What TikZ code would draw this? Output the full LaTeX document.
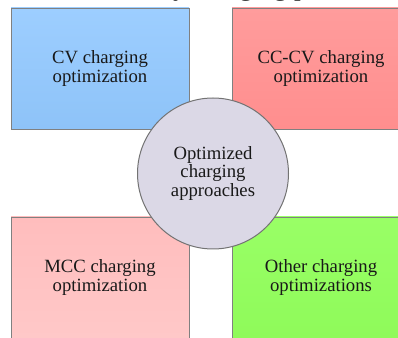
\documentclass[tikz,border=0pt]{standalone}
\usepackage{fontspec}
\setmainfont{Liberation Serif}
\begin{document}
\begin{tikzpicture}[x=1pt,y=1pt,
  quad/.style={draw=black!50,line width=0.9pt,minimum width=178pt,minimum height=121pt,
    align=center,inner sep=0pt,font=\fontsize{18.7}{18.5}\selectfont,text=black!90},
  hub/.style={circle,draw=black!55,line width=1pt,fill=hubfill,minimum size=151pt,
    align=center,inner sep=0pt,font=\fontsize{18.7}{18.8}\selectfont,text=black!90}]
\definecolor{bluetop}{HTML}{9DCEFF}
\definecolor{bluebot}{HTML}{8EC3F8}
\definecolor{redtop}{HTML}{FF9C9C}
\definecolor{redbot}{HTML}{FF8E8E}
\definecolor{pinktop}{HTML}{FFBDBD}
\definecolor{pinkbot}{HTML}{FFC8C8}
\definecolor{greentop}{HTML}{99FF66}
\definecolor{greenbot}{HTML}{8FFA5A}
\definecolor{hubfill}{HTML}{DBD8E6}
\useasboundingbox (0,0) rectangle (398,337);
\clip (0,0) rectangle (398,337);
\node[font=\fontsize{27}{27}\selectfont,anchor=base west,inner sep=0pt,text=black!90] (title) at (173,341.5) {y charging p};
\node[quad,top color=bluetop,bottom color=bluebot] (cv) at (100,268.5) {CV charging\\optimization};
\node[quad,top color=redtop,bottom color=redbot] (cccv) at (321,268.5) {CC-CV charging\\optimization};
\node[quad,top color=pinktop,bottom color=pinkbot] (mcc) at (100,59.5) {MCC charging\\optimization};
\node[quad,top color=greentop,bottom color=greenbot] (other) at (321,59.5) {Other charging\\optimizations};
\node[hub] (hub) at (213,163.5) {Optimized\\charging\\approaches};
\end{tikzpicture}
\end{document}
